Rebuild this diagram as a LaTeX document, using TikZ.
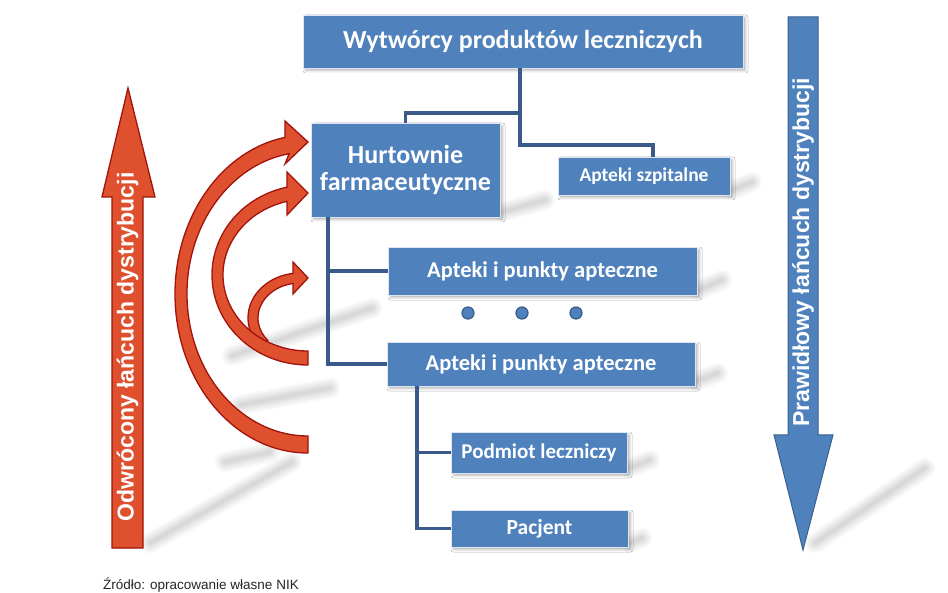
\documentclass[tikz,border=0pt]{standalone}
\usepackage{fontspec}
\newfontfamily\carlito{Carlito}
\newfontfamily\arialf{Liberation Sans}
\usetikzlibrary{shadows.blur,calc}
\definecolor{boxblue}{RGB}{79,129,189}
\definecolor{linkblue}{RGB}{58,90,138}
\definecolor{redfill}{RGB}{222,80,46}
\definecolor{redline}{RGB}{160,20,12}
\definecolor{arrowline}{RGB}{58,96,142}
\newcommand\boxfont[1]{\carlito\bfseries\fontsize{#1pt}{27pt}\selectfont}
\newcommand\mystreak[2]{\foreach \w in {20,16,12,9,6,3}{\draw[black!50,line cap=round,opacity=0.055,line width=\w pt] #1 -- #2;}}
\begin{document}
\begin{tikzpicture}[x=1pt,y=-1pt,
  box/.style={fill=boxblue, draw=white!80!boxblue, line width=0.6pt, text=white, inner sep=0pt, align=center,
    blur shadow={shadow xshift=2.5pt, shadow yshift=-2.5pt, shadow blur radius=2.5pt, shadow opacity=30}},
  link/.style={draw=linkblue, line width=3.2pt},
  dotn/.style={circle, fill=boxblue, draw=linkblue, line width=1.2pt, minimum size=12pt, inner sep=0pt},
  redarrow/.style={fill=redfill, draw=redline, line width=1.3pt, line join=miter},
  bluearrow/.style={fill=boxblue, draw=arrowline, line width=1pt},
  arrowtext/.style={text=white, font=\arialf\bfseries\fontsize{23pt}{25pt}\selectfont, rotate=90, inner sep=0pt}]
\useasboundingbox (0,0) rectangle (948,593);
\fill[white] (0,0) rectangle (948,593);

% soft streak shadows
\mystreak{(150,543)}{(292,462)}
\mystreak{(232,356)}{(372,308)}
\mystreak{(240,405)}{(330,388)}
\mystreak{(225,462)}{(270,452)}
\mystreak{(815,543)}{(925,468)}
\mystreak{(502,212)}{(545,200)}
\mystreak{(732,190)}{(752,182)}
\mystreak{(699,290)}{(722,280)}
\mystreak{(697,381)}{(718,373)}
\mystreak{(629,468)}{(650,460)}
\mystreak{(630,543)}{(642,538)}

% left straight arrow
\draw[redarrow] (112,548) -- (112,197) -- (102,197) -- (128,88) -- (155,197) -- (143,197) -- (143,548) -- cycle;
\node[arrowtext] (odw) at (127.5,347) {Odwrócony łańcuch dystrybucji};

% right straight arrow
\draw[bluearrow] (788,17) -- (818,17) -- (818,435) -- (833,435) -- (803,550) -- (774,435) -- (788,435) -- cycle;
\node[arrowtext] (praw) at (803,252.5) {Prawidłowy łańcuch dystrybucji};

% curved arrows (inner first)
\draw[redarrow] (300,318) ++(140:52 and 45) arc[start angle=140, end angle=262.3, x radius=52, y radius=45]
  -- (293,262) -- (308,278) -- (293,294) -- ($(300,318)+(260.4:42 and 35)$)
  arc[start angle=260.4, end angle=140, x radius=42, y radius=35] -- cycle;
\draw[redarrow] (308,365) arc[start angle=90, end angle=257.3, x radius=96, y radius=90]
  -- (287,172) -- (308,193) -- (287,215) -- ($(308,275)+(255.7:85 and 76)$)
  arc[start angle=255.7, end angle=90, x radius=85, y radius=76] -- cycle;
\draw[redarrow] (308,453) arc[start angle=90, end angle=260, x radius=133, y radius=159]
  -- (285,121) -- (308,142) -- (285,164) -- ($(308,294)+(261:121 and 142)$)
  arc[start angle=261, end angle=90, x radius=121, y radius=142] -- cycle;

% boxes
\node[box, minimum width=440pt, minimum height=53pt, font=\boxfont{26}] (top) at (523,41.5) {Wytwórcy produktów leczniczych};
\node[box, minimum width=189pt, minimum height=94pt, font=\boxfont{26}] (hurt) at (405.5,170) {Hurtownie\\farmaceutyczne};
\node[box, minimum width=172pt, minimum height=38pt, font=\boxfont{19.5}] (szp) at (644,176) {Apteki szpitalne};
\node[box, minimum width=309pt, minimum height=48pt, font=\boxfont{22.5}] (apt1) at (542.5,271) {Apteki i punkty apteczne};
\node[box, minimum width=308pt, minimum height=44pt, font=\boxfont{22.5}] (apt2) at (541,364) {Apteki i punkty apteczne};
\node[box, minimum width=176pt, minimum height=41pt, font=\boxfont{21}] (pod) at (539,452.5) {Podmiot leczniczy};
\node[box, minimum width=177pt, minimum height=37pt, font=\boxfont{21.5}] (pac) at (539.5,528.5) {Pacjent};

% dots
\node[dotn] (d1) at (468,313) {};
\node[dotn] (d2) at (522,313) {};
\node[dotn] (d3) at (576,313) {};

% connectors
\coordinate (j1) at (520,113);
\coordinate (j2) at (520,145);
\draw[link] (top.south -| j1) -- (j2) -- ([xshift=9pt]szp.north |- j2) -- ([xshift=9pt]szp.north);
\draw[link] (j1) -| (hurt.north);
\coordinate (c3) at (328,364);
\draw[link] (hurt.south -| c3) -- (c3) -- (apt2.west);
\draw[link] (apt1.west -| c3) -- (apt1.west);
\coordinate (c4) at (417,528.5);
\draw[link] (apt2.south -| c4) -- (c4) -- (pac.west);
\draw[link] (pod.west -| c4) -- (pod.west);

% source
\node[anchor=base west, inner sep=0pt, font=\arialf\fontsize{13.5pt}{15pt}\selectfont, text=black!85] (src) at (103,589) {Źródło: opracowanie własne NIK};
\end{tikzpicture}
\end{document}
